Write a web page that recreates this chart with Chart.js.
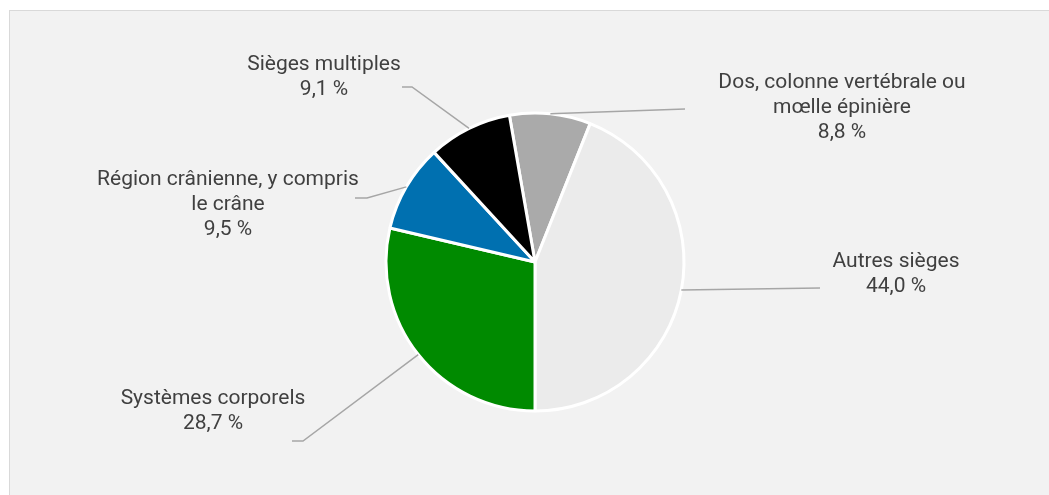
<!DOCTYPE html>
<html lang="fr">
<head>
  <meta charset="UTF-8">
  <title>Sièges des lésions</title>
  <style>
    html, body {
      margin: 0;
      padding: 0;
      background: #ffffff;
      overflow: hidden;
    }
    .panel {
      position: absolute;
      left: 9px;
      top: 10px;
      width: 1060px;
      height: 500px;
      background: #f2f2f2;
      border: 1px solid #d9d9d9;
    }
    .chart-box {
      position: absolute;
      left: 0;
      top: 0;
      width: 1049px;
      height: 495px;
    }
  </style>
</head>
<body>
  <div class="panel"></div>
  <div class="chart-box">
    <canvas id="pieChart"></canvas>
  </div>

  <script src="https://cdn.jsdelivr.net/npm/chart.js"></script>
  <script>
    // données (ordre horaire à partir de "Dos...")
    var categories = [
      ['Dos, colonne vertébrale ou', 'mœlle épinière'],
      ['Autres sièges'],
      ['Systèmes corporels'],
      ['Région crânienne, y compris', 'le crâne'],
      ['Sièges multiples']
    ];
    var values = [8.8, 44.0, 28.7, 9.5, 9.1];
    var colors = ['#aaaaaa', '#ebebeb', '#008a00', '#0070b0', '#000000'];

    // position des étiquettes, relative au centre du camembert
    // tx/ty : centre du texte, ex/ey : coude du trait, hx : fin du trait
    var labelLayout = [
      { tx: 307, ty: -154, ex: 150, ey: -153, hx: 150 },
      { tx: 361, ty: 12,   ex: 285, ey: 26,   hx: 285 },
      { tx: -322, ty: 149, ex: -232, ey: 179, hx: -243 },
      { tx: -307, ty: -57, ex: -168, ey: -64, hx: -180 },
      { tx: -211, ty: -185, ex: -123, ey: -175, hx: -133 }
    ];

    function fmt(v) {
      return v.toFixed(1).replace('.', ',') + ' %';
    }

    var labelPlugin = {
      id: 'pieLabels',
      afterDraw: function(chart) {
        var ctx = chart.ctx;
        var meta = chart.getDatasetMeta(0);
        ctx.save();
        meta.data.forEach(function(arc, i) {
          var p = arc.getProps(['x', 'y', 'startAngle', 'endAngle', 'outerRadius'], true);
          var mid = (p.startAngle + p.endAngle) / 2;
          var ax = p.x + Math.cos(mid) * p.outerRadius;
          var ay = p.y + Math.sin(mid) * p.outerRadius;
          var L = labelLayout[i];

          ctx.strokeStyle = '#a6a6a6';
          ctx.lineWidth = 1.5;
          ctx.beginPath();
          ctx.moveTo(ax, ay);
          ctx.lineTo(p.x + L.ex, p.y + L.ey);
          ctx.lineTo(p.x + L.hx, p.y + L.ey);
          ctx.stroke();

          var lines = categories[i].concat([fmt(values[i])]);
          ctx.fillStyle = '#404040';
          ctx.font = '21px Roboto';
          ctx.textAlign = 'center';
          ctx.textBaseline = 'middle';
          var lh = 25;
          var y0 = p.y + L.ty - (lines.length - 1) * lh / 2;
          lines.forEach(function(t, k) {
            ctx.fillText(t, p.x + L.tx, y0 + k * lh);
          });
        });
        ctx.restore();
      }
    };

    var ctx = document.getElementById('pieChart').getContext('2d');
    var pieChart = new Chart(ctx, {
      type: 'pie',
      data: {
        labels: categories.map(function(c) { return c.join(' '); }),
        datasets: [{
          data: values,
          backgroundColor: colors,
          borderColor: '#ffffff',
          borderWidth: 3,
          hoverOffset: 0
        }]
      },
      options: {
        responsive: true,
        maintainAspectRatio: false,
        animation: false,
        rotation: -9.9,
        radius: 149,
        layout: {
          padding: { left: 385, right: 364, top: 112, bottom: 83 }
        },
        plugins: {
          legend: { display: false },
          tooltip: { enabled: false }
        }
      },
      plugins: [labelPlugin]
    });
  </script>
</body>
</html>
